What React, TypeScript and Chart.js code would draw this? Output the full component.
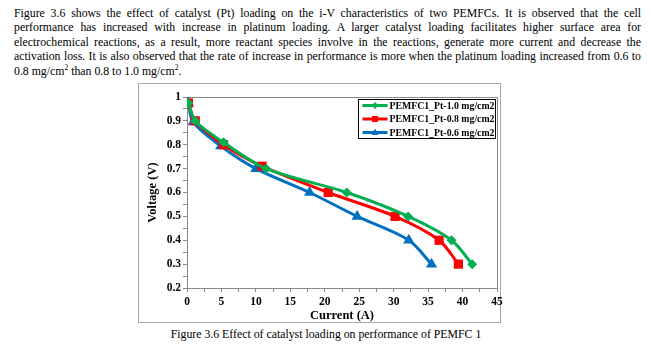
import React, { useEffect, useRef } from 'react';
import { Chart, registerables } from 'chart.js';
Chart.register(...registerables);

const seriesLabels = ['PEMFC1_Pt-1.0 mg/cm2', 'PEMFC1_Pt-0.8 mg/cm2', 'PEMFC1_Pt-0.6 mg/cm2'];
const current10 = [0.2, 1.2, 5.3, 11.5, 23.2, 32.1, 38.4, 41.4];
const voltage10 = [0.975, 0.9, 0.81, 0.7, 0.6, 0.5, 0.4, 0.3];
const current08 = [0.2, 1.2, 5.3, 10.9, 20.5, 30.2, 36.6, 39.4];
const voltage08 = [0.975, 0.9, 0.8, 0.71, 0.6, 0.5, 0.4, 0.3];
const current06 = [0.2, 0.9, 4.9, 10.0, 17.8, 24.7, 32.2, 35.5];
const voltage06 = [0.975, 0.895, 0.795, 0.7, 0.6, 0.5, 0.4, 0.3];
const xTitle = 'Current (A)';
const yTitle = 'Voltage (V)';

const colors = ['#00B050', '#FF0000', '#0070C0'];
const pointStyles = ['rectRot', 'rect', 'triangle'];
const pointRadii = [5, 6.5, 6.5];
const FONT = "'Liberation Serif', 'Times New Roman', serif";

function pts(xs: number[], ys: number[]) {
  return xs.map((x, i) => ({ x, y: ys[i] }));
}

const plotFrame = {
  id: 'plotFrame',
  beforeDatasetsDraw(chart: any) {
    const { ctx, chartArea: a } = chart;
    ctx.save();
    ctx.strokeStyle = '#8a8a8a';
    ctx.lineWidth = 1;
    ctx.strokeRect(Math.round(a.left) + 0.5, Math.round(a.top) + 0.5, Math.round(a.right - a.left), Math.round(a.bottom - a.top));
    ctx.restore();
  },
};

function legendMarker(ctx: CanvasRenderingContext2D, style: string, cx: number, cy: number) {
  ctx.beginPath();
  if (style === 'rect') {
    ctx.rect(cx - 3, cy - 3, 6, 6);
  } else if (style === 'triangle') {
    ctx.moveTo(cx, cy - 4);
    ctx.lineTo(cx + 3.5, cy + 2.5);
    ctx.lineTo(cx - 3.5, cy + 2.5);
    ctx.closePath();
  } else {
    ctx.moveTo(cx, cy - 3.5);
    ctx.lineTo(cx + 3.5, cy);
    ctx.lineTo(cx, cy + 3.5);
    ctx.lineTo(cx - 3.5, cy);
    ctx.closePath();
  }
  ctx.fill();
}

const boxLegend = {
  id: 'boxLegend',
  afterDraw(chart: any) {
    const { ctx, chartArea: a } = chart;
    const w = 137, h = 39;
    const x0 = Math.round(a.right - 2 - w) + 0.5;
    const y0 = Math.round(a.top + 2) + 0.5;
    ctx.save();
    ctx.fillStyle = '#fff';
    ctx.fillRect(x0, y0, w, h);
    ctx.strokeStyle = '#000';
    ctx.lineWidth = 1;
    ctx.strokeRect(x0, y0, w, h);
    ctx.font = `bold 9.8px ${FONT}`;
    ctx.textBaseline = 'middle';
    chart.data.datasets.forEach((ds: any, i: number) => {
      const cy = y0 + 6 + i * 13.5;
      ctx.strokeStyle = ds.borderColor;
      ctx.lineWidth = 3;
      ctx.beginPath();
      ctx.moveTo(x0 + 4, cy);
      ctx.lineTo(x0 + 29, cy);
      ctx.stroke();
      ctx.fillStyle = ds.borderColor;
      legendMarker(ctx, ds.pointStyle, x0 + 16.5, cy);
      ctx.fillStyle = '#000';
      ctx.fillText(ds.label, x0 + 31, cy + 0.5);
    });
    ctx.restore();
  },
};

function ChartBox() {
  const ref = useRef<HTMLCanvasElement>(null);
  useEffect(() => {
    if (!ref.current) return;
    const series = [pts(current10, voltage10), pts(current08, voltage08), pts(current06, voltage06)];
    const chart = new Chart(ref.current, {
      type: 'line',
      data: {
        datasets: series.map((d, i) => ({
          label: seriesLabels[i],
          data: d,
          borderColor: colors[i],
          backgroundColor: colors[i],
          borderWidth: 3,
          pointStyle: pointStyles[i] as any,
          pointRadius: pointRadii[i],
          pointBorderWidth: 0,
          tension: 0.3,
          fill: false,
        })),
      },
      options: {
        animation: false,
        responsive: false,
        events: [],
        layout: { padding: { left: 0, right: 23, top: 14, bottom: 0 } },
        plugins: { legend: { display: false }, tooltip: { enabled: false } },
        scales: {
          x: {
            type: 'linear',
            min: 0,
            max: 45,
            afterFit(s: any) { s.height = 35; },
            ticks: {
              stepSize: 2.5,
              autoSkip: false,
              maxRotation: 0,
              padding: 3,
              color: '#000',
              font: { family: FONT, size: 11.5, weight: 'bold' },
              callback: (v: any) => (Math.abs(v % 5) < 1e-6 ? String(v) : ''),
            },
            grid: { drawOnChartArea: false, tickLength: 4, color: '#8a8a8a' },
            border: { color: '#8a8a8a' },
            title: {
              display: true,
              text: xTitle,
              color: '#000',
              padding: { top: 0, bottom: 0 },
              font: { family: FONT, size: 12.5, weight: 'bold' },
            },
          },
          y: {
            type: 'linear',
            min: 0.2,
            max: 1,
            afterFit(s: any) { s.width = 57; },
            ticks: {
              stepSize: 0.05,
              autoSkip: false,
              padding: 2,
              color: '#000',
              font: { family: FONT, size: 11.5, weight: 'bold' },
              callback: (v: any) => {
                const t = v * 10;
                if (Math.abs(t - Math.round(t)) > 1e-6) return '';
                return Math.abs(v - 1) < 1e-6 ? '1' : Number(v).toFixed(1);
              },
            },
            grid: { drawOnChartArea: false, tickLength: 4, color: '#8a8a8a' },
            border: { color: '#8a8a8a' },
            title: {
              display: true,
              text: yTitle,
              color: '#000',
              padding: { top: 15, bottom: 0 },
              font: { family: FONT, size: 12.5, weight: 'bold' },
            },
          },
        },
      },
      plugins: [plotFrame, boxLegend],
    } as any);
    return () => chart.destroy();
  }, []);
  return (
    <canvas
      ref={ref}
      width={390}
      height={240}
      style={{ position: 'absolute', left: 122, top: 75, width: 390, height: 240 }}
    />
  );
}

const sup = { fontSize: '7.5px', verticalAlign: 'super', lineHeight: 0 } as const;
const lineStyle = { textAlign: 'justify', textAlignLast: 'justify', whiteSpace: 'nowrap' } as any;

export default function App() {
  return (
    <div style={{ position: 'relative', width: 635, height: 335, fontFamily: FONT, color: '#000' }}>
      <div style={{ position: 'absolute', left: -8, top: -7, width: 37, height: 1, background: '#cfcfcf' }} />
      <div style={{ position: 'absolute', left: 6, top: -2, width: 627, fontSize: '11.8px', lineHeight: '14.4px' }}>
        <div style={lineStyle}>Figure 3.6 shows the effect of catalyst (Pt) loading on the i-V characteristics of two PEMFCs. It is observed that the cell</div>
        <div style={lineStyle}>performance has increased with increase in platinum loading. A larger catalyst loading facilitates higher surface area for</div>
        <div style={lineStyle}>electrochemical reactions, as a result, more reactant species involve in the reactions, generate more current and decrease the</div>
        <div style={lineStyle}>activation loss. It is also observed that the rate of increase in performance is more when the platinum loading increased from 0.6 to</div>
        <div>0.8 mg/cm<span style={sup}>2</span> than 0.8 to 1.0 mg/cm<span style={sup}>2</span>.</div>
      </div>
      <div style={{ position: 'absolute', left: 130, top: 75, width: 363, height: 240, boxSizing: 'border-box', border: '1px solid #a6a6a6' }} />
      <ChartBox />
      <div style={{ position: 'absolute', left: 118, top: 319, width: 400, textAlign: 'center', fontSize: '11.8px', lineHeight: '14.4px' }}>
        Figure 3.6 Effect of catalyst loading on performance of PEMFC 1
      </div>
    </div>
  );
}
